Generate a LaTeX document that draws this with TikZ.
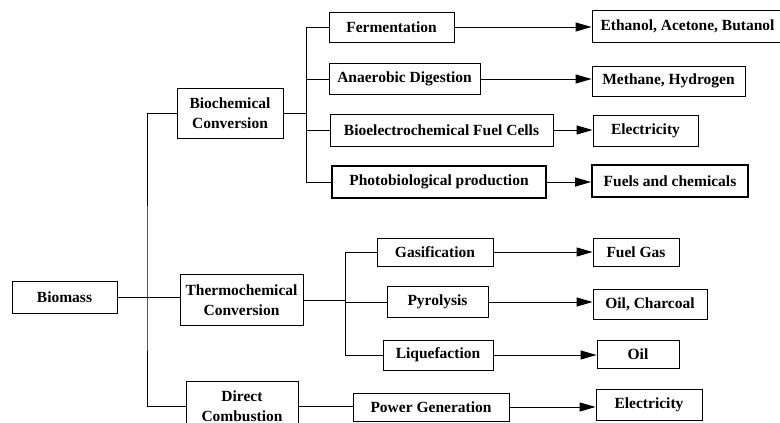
\documentclass[tikz,border=0pt]{standalone}
\usepackage{fontspec}
\setmainfont{Liberation Serif}
\usetikzlibrary{arrows.meta}

\tikzset{
  box/.style={draw, line width=0.9pt, inner sep=0pt, align=center,
    font=\fontsize{15.5}{19.5}\selectfont\bfseries},
  thickbox/.style={box, line width=1.8pt},
  link/.style={line width=0.9pt},
  arr/.style={link, -{Triangle[length=16pt,width=9pt]}},
}

\begin{document}
\begin{tikzpicture}[x=1pt,y=-1pt]
		\useasboundingbox (0,0) rectangle (780,423);
		\def \xb {306}
		\def \xt {345}

		\node[box, minimum width=105pt, minimum height=32pt] (biomass) at (64.5,297) {Biomass};

		\node[box, minimum width=106pt, minimum height=50pt] (bio) at (230,113) {Biochemical\\Conversion};
		\node[box, minimum width=123pt, minimum height=51pt] (thermo) at (241.5,300) {Thermochemical\\Conversion};
		\node[box, minimum width=112pt, minimum height=50pt] (direct) at (242,406) {Direct\\Combustion};

		\node[box, minimum width=125pt, minimum height=30pt] (ferm) at (391.5,27) {Fermentation};
		\node[box, minimum width=151pt, minimum height=31pt] (anaer) at (404.5,79) {Anaerobic Digestion};
		\node[box, minimum width=223pt, minimum height=32pt] (bioel) at (441.5,130) {Bioelectrochemical Fuel Cells};
		\node[thickbox, minimum width=214pt, minimum height=32pt] (photo) at (439,182) {Photobiological production};

		\node[box, minimum width=116pt, minimum height=28pt] (gasif) at (435,252) {Gasification};
		\node[box, minimum width=101pt, minimum height=31pt] (pyro) at (437.5,302) {Pyrolysis};
		\node[box, minimum width=110pt, minimum height=30pt] (liq) at (438,355) {Liquefaction};
		\node[box, minimum width=156pt, minimum height=28pt] (power) at (431,407) {Power Generation};

		\node[box, minimum width=191pt, minimum height=32pt] (eth) at (687.5,26) {Ethanol, Acetone, Butanol};
		\node[box, minimum width=153pt, minimum height=30pt] (meth) at (668.5,81) {Methane, Hydrogen};
		\node[box, minimum width=105pt, minimum height=31pt] (elecA) at (645.5,130.5) {Electricity};
		\node[thickbox, minimum width=156pt, minimum height=32pt] (fuels) at (670,181) {Fuels and chemicals};
		\node[box, minimum width=86pt, minimum height=28pt] (fgas) at (636,252) {Fuel Gas};
		\node[box, minimum width=114pt, minimum height=30pt] (oilch) at (650,304) {Oil, Charcoal};
		\node[box, minimum width=82pt, minimum height=28pt] (oil) at (638,354) {Oil};
		\node[box, minimum width=106pt, minimum height=31pt] (elecB) at (649,405) {Electricity};

		\coordinate (trunk) at (147,297);
		\coordinate (bj) at (\xb,113);
		\coordinate (tj) at (\xt,300);

		\draw[link] (biomass.east) -- (biomass.east -| thermo.west);
		\draw[link] (bio.west) -| (trunk) |- (direct.west);

		\draw[link] (bio.east) -- (bj);
		\foreach \n in {ferm, anaer, bioel, photo}
			\draw[link] (bj) |- (\n.west);

		\draw[link] (thermo.east) -- (tj);
		\foreach \n in {gasif, pyro, liq}
			\draw[link] (tj) |- (\n.west);

		\draw[link] (direct.east) -- (direct.east -| power.west);

		\foreach \a/\b in {ferm/eth, anaer/meth, bioel/elecA, photo/fuels, gasif/fgas, pyro/oilch, liq/oil, power/elecB}
			\draw[arr] (\a.east) -- (\a.east -| \b.west);
	\end{tikzpicture}
\end{document}
